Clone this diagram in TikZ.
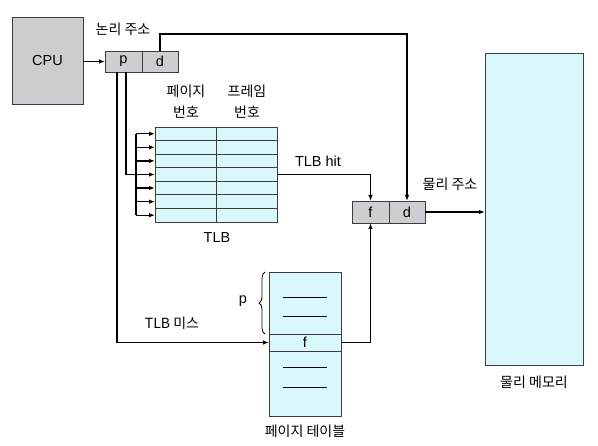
\documentclass[tikz,border=0pt]{standalone}
\usepackage{fontspec}
\setmainfont{Liberation Sans}
\newfontfamily\kr{Noto Sans CJK KR}
\usetikzlibrary{arrows.meta,decorations.pathreplacing}
\definecolor{cyanfill}{RGB}{218,247,251}
\definecolor{grayfill}{RGB}{205,205,210}
\definecolor{edge}{RGB}{60,60,60}
\tikzset{
  box/.style={draw=edge,line width=0.9pt,inner sep=0pt,outer sep=0pt},
  gbox/.style={box,fill=grayfill},
  cbox/.style={box,fill=cyanfill},
  arr/.style={line width=1.3pt,-{Latex[length=6pt,width=4.5pt]}},
  ln/.style={line width=1.3pt},
  lbl/.style={font=\fontsize{14.5}{16}\selectfont,inner sep=0pt},
  klbl/.style={font=\kr\fontsize{14}{16}\selectfont,inner sep=0pt},
}
\begin{document}
\begin{tikzpicture}[x=1pt,y=-1pt]
\useasboundingbox (0,0) rectangle (598,446);
% CPU
\node[gbox,minimum width=71pt,minimum height=87pt,lbl] (cpu) at (47.5,60.5) {CPU};
% logical address
\node[gbox,minimum width=37pt,minimum height=21pt,lbl] (logp) at (123.5,61.5) {p};
\node[gbox,minimum width=36pt,minimum height=21pt,lbl] (logd) at (160,61.5) {d};
\node[klbl] (lal) at (123,29) {논리 주소};
% physical address
\node[gbox,minimum width=37pt,minimum height=22pt,lbl] (physf) at (370.5,212) {f};
\node[gbox,minimum width=36pt,minimum height=22pt,lbl] (physd) at (407,212) {d};
\node[klbl] (pal) at (450,184) {물리 주소};
% memory
\node[cbox,minimum width=98pt,minimum height=312pt] (mem) at (534,209) {};
\node[klbl] (meml) at (534,382) {물리 메모리};
% TLB
\foreach \i in {1,...,7}{
  \node[cbox,minimum width=61pt,minimum height=13.57pt] (tl\i) at (185.5,{127+13.57*(\i-0.5)}) {};
  \node[cbox,minimum width=61pt,minimum height=13.57pt] (tr\i) at (246.5,{127+13.57*(\i-0.5)}) {};
}
\node[klbl] (pg1) at (186,91) {페이지};
\node[klbl] (pg2) at (186,112) {번호};
\node[klbl] (fr1) at (247,91) {프레임};
\node[klbl] (fr2) at (247,112) {번호};
\node[lbl] (tlbl) at (217,238) {TLB};
% TLB row arrows
\coordinate (bus1) at (136,0);
\draw[ln] (bus1 |- tl1.west) -- (bus1 |- tl7.west);
\foreach \i in {1,2,3,5,6,7}{
  \draw[arr] (bus1 |- tl\i.west) -- (tl\i.west);
}
\draw[arr] ([xshift=2.5pt]logp.south) |- (tl4.west);
% page table
\node[cbox,minimum width=72pt,minimum height=62pt] (ptop) at (305,303) {};
\node[cbox,minimum width=72pt,minimum height=17pt,lbl] (pf) at (305,342.5) {f};
\node[cbox,minimum width=72pt,minimum height=65pt] (pbot) at (305,383.5) {};
\foreach \y in {298,317}{ \draw[line width=1pt] (283,\y) -- (327,\y); }
\foreach \y in {368,388}{ \draw[line width=1pt] (283,\y) -- (327,\y); }
\node[klbl] (ptl) at (305,431) {페이지 테이블};
\draw[line width=0.8pt,decorate,decoration={brace,amplitude=6pt}] (265,334) -- (265,272);
\node[lbl] (pbr) at (243,301) {p};
\node[klbl] (miss) at (172,323) {TLB 미스};
\node[lbl] (hit) at (318,161) {TLB hit};
% connectors
\draw[arr] (cpu.east |- logp.west) -- (logp.west);
\draw[arr] (logd.north) -- ++(0,-17) -| (physd.north);
\draw[arr] (tr4.east) -| (physf.north);
\draw[arr] ([xshift=-6.5pt]logp.south) |- (pf.west);
\draw[arr] (pf.east) -| (physf.south);
\draw[arr] (physd.east) -- (physd.east -| mem.west);
\end{tikzpicture}
\end{document}
